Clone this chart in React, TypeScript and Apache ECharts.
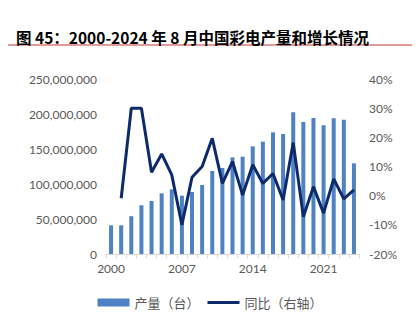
import React, { useEffect, useRef } from "react";
import * as echarts from "echarts";

const years = [
  "2000", "2001", "2002", "2003", "2004", "2005", "2006", "2007", "2008", "2009",
  "2010", "2011", "2012", "2013", "2014", "2015", "2016", "2017", "2018", "2019",
  "2020", "2021", "2022", "2023", "2024",
];
const output = [
  41000000, 41000000, 54000000, 69600000, 75700000, 86700000, 92400000, 83300000, 88600000, 98600000,
  118600000, 122900000, 138000000, 139000000, 153800000, 160500000, 173800000, 171400000, 202400000, 188600000,
  194300000, 183800000, 193800000, 191900000, 129500000,
];
const yoy = [
  null, -0.9, 30, 30, 8, 14.3, 7.1, -10, 6.3, 10,
  19.7, 4.2, 11.7, 0.2, 10.6, 4.2, 7.6, -1.5, 18.2, -7.2,
  3.1, -6, 5.7, -1.1, 2,
];
const leftTicks = [0, 50000000, 100000000, 150000000, 200000000, 250000000];
const rightTicks = [-20, -10, 0, 10, 20, 30, 40];

const titleText = "图 45：2000-2024 年 8 月中国彩电产量和增长情况";
const barName = "产量（台）";
const lineName = "同比（右轴）";

export default function App() {
  const ref = useRef<HTMLDivElement>(null);
  useEffect(() => {
    if (!ref.current) return;
    const chart = echarts.init(ref.current, null, { renderer: "svg" });
    const axisFont = "Lato, 'Noto Sans', sans-serif";
    chart.setOption({
      animation: false,
      backgroundColor: "#ffffff",
      title: {
        text: titleText,
        left: 11,
        top: 24,
        textStyle: {
          fontSize: 15.5,
          fontWeight: "bold",
          color: "#000000",
          fontFamily: "'Noto Sans CJK SC', sans-serif",
        },
      },
      graphic: [
        {
          type: "line",
          shape: { x1: 3, y1: 45, x2: 418, y2: 45 },
          style: { stroke: "#e39a9a", lineWidth: 2 },
        },
      ],
      legend: {
        bottom: 8,
        left: "center",
        itemGap: 8,
        itemWidth: 32,
        itemHeight: 8,
        textStyle: {
          fontSize: 13,
          color: "#595959",
          fontFamily: "'Noto Sans CJK SC', sans-serif",
        },
        data: [
          { name: barName, icon: "rect" },
          { name: lineName, icon: "path://M0,0h32v3h-32z" },
        ],
      },
      grid: { left: 106, right: 61, top: 79, bottom: 68 },
      xAxis: {
        type: "category",
        data: years,
        boundaryGap: true,
        axisLine: { lineStyle: { color: "#d9d9d9", width: 1 } },
        axisTick: { show: true, interval: 0, length: 4, lineStyle: { color: "#d9d9d9" } },
        axisLabel: {
          interval: 6,
          color: "#595959",
          fontSize: 12,
          margin: 8,
          fontFamily: axisFont,
        },
      },
      yAxis: [
        {
          type: "value",
          min: leftTicks[0],
          max: leftTicks[leftTicks.length - 1],
          interval: 50000000,
          splitLine: { show: false },
          axisLine: { show: false },
          axisTick: { show: false },
          axisLabel: {
            color: "#595959",
            fontSize: 12,
            margin: 9,
            fontFamily: axisFont,
            formatter: (v: number) => v.toLocaleString("en-US"),
          },
        },
        {
          type: "value",
          min: rightTicks[0],
          max: rightTicks[rightTicks.length - 1],
          interval: 10,
          splitLine: { show: false },
          axisLine: { show: false },
          axisTick: { show: false },
          axisLabel: {
            color: "#595959",
            fontSize: 12,
            margin: 10,
            fontFamily: axisFont,
            formatter: (v: number) => v + "%",
          },
        },
      ],
      series: [
        {
          name: barName,
          type: "bar",
          data: output,
          barWidth: 4,
          itemStyle: { color: "#4f81c5" },
        },
        {
          name: lineName,
          type: "line",
          yAxisIndex: 1,
          data: yoy,
          symbol: "none",
          connectNulls: false,
          lineStyle: { color: "#0d2a6b", width: 3 },
          itemStyle: { color: "#0d2a6b" },
        },
      ],
    });
    return () => chart.dispose();
  }, []);
  return <div ref={ref} style={{ width: 420, height: 322, margin: -8 }} />;
}
